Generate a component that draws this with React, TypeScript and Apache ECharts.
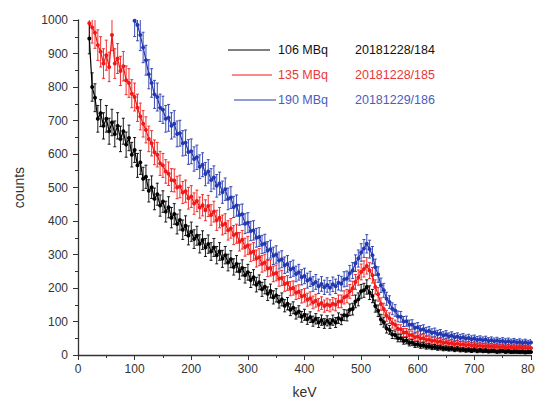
import React, { useEffect, useRef } from "react";
import * as echarts from "echarts";

// Energy grid (keV) for each spectrum: first channel and channel width
const STEP_KEV = 5;
const START_106 = 20;
const START_135 = 20;
const START_190 = 100;

// counts
const counts106 = [
  945, 800, 768, 705, 722, 684, 705, 668, 694, 660,
  684, 645, 668, 628, 648, 598, 612, 566, 575, 526,
  532, 490, 501, 466, 480, 446, 458, 428, 441, 410,
  421, 391, 403, 374, 386, 357, 368, 346, 356, 332,
  343, 321, 331, 309, 321, 298, 309, 287, 298, 276,
  286, 263, 272, 250, 260, 238, 247, 224, 232, 210,
  217, 196, 204, 183, 191, 172, 178, 159, 166, 147,
  153, 135, 141, 124, 130, 114, 120, 107, 113, 101,
  108, 97, 104, 94, 102, 94, 104, 97, 110, 106,
  119, 118, 135, 137, 160, 166, 190, 193, 203, 186,
  176, 146, 132, 106, 98, 79, 75, 61, 60, 50,
  50, 42, 43, 36, 37, 31, 32, 28, 29, 25,
  26, 23, 24, 21, 22, 19, 20, 18, 19, 16,
  18, 15, 16, 14, 15, 13, 15, 12, 14, 12,
  13, 11, 12, 12, 10, 11, 12, 10, 11, 9,
  10, 10, 9, 10, 8, 9, 9,
];

const counts135 = [
  990, 978, 962, 925, 905, 870, 895, 860, 955, 870,
  885, 848, 862, 820, 812, 780, 770, 738, 712, 690,
  672, 645, 632, 605, 598, 572, 566, 548, 541, 522,
  521, 500, 503, 485, 489, 468, 473, 452, 460, 440,
  447, 432, 445, 418, 428, 402, 410, 388, 392, 372,
  378, 358, 362, 338, 344, 322, 327, 305, 309, 288,
  292, 272, 276, 258, 260, 242, 245, 228, 230, 212,
  215, 198, 200, 186, 189, 175, 178, 165, 169, 157,
  162, 150, 155, 146, 151, 147, 153, 150, 160, 160,
  172, 176, 190, 199, 218, 231, 248, 257, 266, 252,
  238, 203, 181, 152, 137, 117, 110, 95, 90, 78,
  77, 67, 67, 60, 60, 53, 55, 49, 50, 45,
  46, 42, 43, 39, 40, 36, 38, 34, 36, 32,
  34, 31, 32, 29, 31, 28, 30, 27, 28, 26,
  27, 25, 26, 24, 26, 23, 25, 22, 24, 22,
  23, 21, 23, 21, 22, 20, 21,
];

const counts190 = [
  998, 985, 955, 918, 880, 838, 812, 778, 770, 738,
  732, 705, 708, 684, 690, 660, 662, 632, 634, 606,
  608, 585, 590, 562, 568, 540, 548, 522, 530, 505,
  512, 486, 495, 466, 470, 442, 446, 418, 420, 392,
  395, 370, 372, 350, 352, 330, 333, 312, 316, 296,
  300, 282, 286, 268, 272, 255, 259, 242, 247, 232,
  236, 222, 227, 212, 218, 205, 212, 202, 209, 201,
  211, 205, 216, 213, 226, 228, 244, 252, 274, 288,
  306, 318, 332, 316, 298, 262, 240, 208, 193, 168,
  158, 138, 133, 115, 114, 100, 101, 90, 91, 81,
  83, 75, 77, 70, 72, 66, 68, 62, 64, 58,
  61, 55, 58, 53, 55, 51, 53, 49, 51, 47,
  49, 45, 47, 44, 46, 42, 44, 41, 43, 40,
  42, 39, 41, 38, 40, 37, 39, 36, 38, 35,
  37,
];

const activities = ["106 MBq", "135 MBq", "190 MBq"];
const runs = ["20181228/184", "20181228/185", "20181229/186"];
const xTickMax = 800;
const yTickMax = 1000;

const lineColors = ["#000000", "#f01818", "#2338b0"];
const textColors = ["#111111", "#e8383a", "#4a5cc0"];

const FONT = "'Liberation Sans', Arial, sans-serif";

function toPoints(start: number, values: number[]) {
  return values.map((v, i) => [start + i * STEP_KEV, v]);
}

export default function App() {
  const ref = useRef<HTMLDivElement>(null);

  useEffect(() => {
    document.body.style.margin = "0";
    if (!ref.current) return;
    const chart = echarts.init(ref.current, undefined, { renderer: "svg" });

    const sets = [
      { pts: toPoints(START_190, counts190), color: lineColors[2] },
      { pts: toPoints(START_135, counts135), color: lineColors[1] },
      { pts: toPoints(START_106, counts106), color: lineColors[0] },
    ];

    const series: any[] = [];
    sets.forEach((s) => {
      series.push({
        type: "custom",
        silent: true,
        clip: true,
        data: s.pts.map(([x, y]) => [x, y - 1.5 * Math.sqrt(y), y + 1.5 * Math.sqrt(y)]),
        encode: { x: 0, y: [1, 2] },
        renderItem: (_p: any, api: any) => {
          const x = api.value(0);
          const a = api.coord([x, api.value(1)]);
          const b = api.coord([x, api.value(2)]);
          const st = { stroke: s.color, lineWidth: 0.9 };
          return {
            type: "group",
            children: [
              { type: "line", shape: { x1: a[0], y1: a[1], x2: b[0], y2: b[1] }, style: st },
              { type: "line", shape: { x1: a[0] - 1.5, y1: a[1], x2: a[0] + 1.5, y2: a[1] }, style: st },
              { type: "line", shape: { x1: b[0] - 1.5, y1: b[1], x2: b[0] + 1.5, y2: b[1] }, style: st },
            ],
          };
        },
      });
      series.push({
        type: "line",
        data: s.pts,
        symbol: "circle",
        symbolSize: 4,
        showSymbol: true,
        lineStyle: { color: s.color, width: 1.2 },
        itemStyle: { color: s.color },
        silent: true,
        clip: true,
      });
    });

    const legendGraphics: any[] = [];
    const rowsY = [50, 75, 100];
    const lineStarts = [228, 232, 234];
    const lineEnds = [270, 272, 276];
    activities.forEach((a, i) => {
      legendGraphics.push({
        type: "line",
        shape: { x1: lineStarts[i], y1: rowsY[i], x2: lineEnds[i], y2: rowsY[i] },
        style: { stroke: lineColors[i], lineWidth: 1.2 },
      });
      legendGraphics.push({
        type: "text",
        x: 278,
        y: rowsY[i],
        style: { text: a, fill: textColors[i], font: `12.5px ${FONT}`, textVerticalAlign: "middle" },
      });
      legendGraphics.push({
        type: "text",
        x: 355,
        y: rowsY[i],
        style: { text: runs[i], fill: textColors[i], font: `12.5px ${FONT}`, textVerticalAlign: "middle" },
      });
    });

    chart.setOption({
      animation: false,
      backgroundColor: "#ffffff",
      textStyle: { fontFamily: FONT },
      grid: { left: 78, right: 4, top: 20, bottom: 50, containLabel: false, outerBoundsMode: "none" },
      xAxis: {
        type: "value",
        min: 0,
        max: xTickMax,
        interval: 100,
        name: "keV",
        nameLocation: "middle",
        nameGap: 30,
        nameTextStyle: { fontSize: 14, color: "#333", fontFamily: FONT },
        axisLine: { show: true, onZero: false, lineStyle: { color: "#333", width: 1.3 } },
        axisTick: { show: true, inside: false, length: 5, lineStyle: { color: "#333" } },
        minorTick: { show: true, splitNumber: 2, length: 3, lineStyle: { color: "#333" } },
        axisLabel: { fontSize: 12, color: "#333", margin: 8, fontFamily: FONT, hideOverlap: false },
        splitLine: { show: false },
      },
      yAxis: {
        type: "value",
        min: 0,
        max: yTickMax,
        interval: 100,
        name: "counts",
        nameLocation: "middle",
        nameGap: 52,
        nameRotate: 90,
        nameTextStyle: { fontSize: 14, color: "#333", fontFamily: FONT },
        axisLine: { show: true, onZero: false, lineStyle: { color: "#333", width: 1.3 } },
        axisTick: { show: true, inside: false, length: 5, lineStyle: { color: "#333" } },
        minorTick: { show: true, splitNumber: 2, length: 3, lineStyle: { color: "#333" } },
        axisLabel: {
          fontSize: 12,
          color: "#333",
          margin: 10,
          fontFamily: FONT,
          formatter: (v: number) => String(v),
        },
        splitLine: { show: false },
      },
      graphic: legendGraphics,
      series,
    });

    return () => chart.dispose();
  }, []);

  return (
    <div
      ref={ref}
      style={{ position: "absolute", left: 0, top: 0, width: 535, height: 405, overflow: "hidden" }}
    />
  );
}
